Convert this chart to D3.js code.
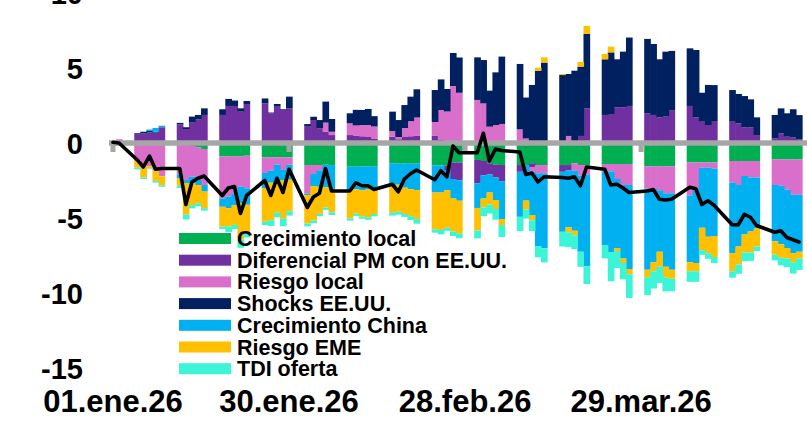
<!DOCTYPE html>
<html><head><meta charset="utf-8">
<script src="https://cdn.jsdelivr.net/npm/d3@7"></script>
<style>
body{margin:0;background:#fff}
svg{display:block}
text{font-family:"Liberation Sans",Arial,Helvetica,sans-serif;font-weight:bold;fill:#000}
</style>
</head><body>
<svg id="chart" width="807" height="425"></svg>
<script>
// ---------- DATA ----------
const dates = [
 "2026-01-01","2026-01-02",
 "2026-01-05","2026-01-06","2026-01-07","2026-01-08","2026-01-09",
 "2026-01-12","2026-01-13","2026-01-14","2026-01-15","2026-01-16",
 "2026-01-19","2026-01-20","2026-01-21","2026-01-22","2026-01-23",
 "2026-01-26","2026-01-27","2026-01-28","2026-01-29","2026-01-30",
 "2026-02-02","2026-02-03","2026-02-04","2026-02-05","2026-02-06",
 "2026-02-09","2026-02-10","2026-02-11","2026-02-12","2026-02-13",
 "2026-02-16","2026-02-17","2026-02-18","2026-02-19","2026-02-20",
 "2026-02-23","2026-02-24","2026-02-25","2026-02-26","2026-02-27",
 "2026-03-02","2026-03-03","2026-03-04","2026-03-05","2026-03-06",
 "2026-03-09","2026-03-10","2026-03-11","2026-03-12","2026-03-13",
 "2026-03-16","2026-03-17","2026-03-18","2026-03-19","2026-03-20",
 "2026-03-23","2026-03-24","2026-03-25","2026-03-26","2026-03-27",
 "2026-03-30","2026-03-31","2026-04-01","2026-04-02","2026-04-03",
 "2026-04-06","2026-04-07","2026-04-08","2026-04-09","2026-04-10",
 "2026-04-13","2026-04-14","2026-04-15","2026-04-16","2026-04-17",
 "2026-04-20","2026-04-21","2026-04-22","2026-04-23","2026-04-24"
];

const crecimientoLocal = [
 0,-0.05,
 -0.05,-0.05,-0.05,-0.05,-0.12,
 -0.05,-0.1,-0.2,-0.3,-0.4,
 -0.9,-0.9,-0.9,-0.9,-0.85,
 -0.95,-0.95,-0.95,-0.95,-0.95,
 -1.47,-1.47,-1.47,-1.45,-1.47,
 -1.58,-1.58,-1.55,-1.55,-1.58,
 -1.35,-1.38,-1.38,-1.38,-1.38,
 -1.5,-1.5,-1.5,-1.3,-1.3,
 -1.13,-1.2,-1.35,-1.45,-1.47,
 -1.47,-1.47,-1.35,-1.47,-1.47,
 -1.47,-1.47,-1.35,-1.47,-1.47,
 -1.4,-1.4,-1.4,-1.4,-1.4,
 -1.55,-1.55,-1.55,-1.55,-1.55,
 -1.3,-1.3,-1.3,-1.3,-1.3,
 -1.2,-1.2,-1.2,-1.2,-1.2,
 -1.1,-1.1,-1.1,-1.1,-1.1
];
const diferencialPM = [
 0,0,
 0.6,0.65,0.7,0.7,1.05,
 1.24,0.93,1.36,1.58,1.87,
 1.87,2.47,2.47,2.09,2.6,
 2.64,1.98,2.42,2.2,2.31,
 1.13,1.53,0.98,0.76,0.53,
 0.53,0.5,0.45,0.4,0.3,
 0.42,0.25,0.4,0.45,0.5,
 0.5,0.2,-0.3,-1.1,-1.2,
 -1.55,-0.95,-0.75,-0.85,-1.1,
 -0.45,0.1,-0.25,0.1,0,
 -0.45,-0.35,0,0.47,2.31,
 1.87,1.93,2.38,2.38,2.47,
 1.98,1.87,1.71,1.76,2.16,
 2.47,1.71,1.42,1.2,1.42,
 1.42,1.31,1.04,1.04,0.53,
 0.31,0.64,0.42,0.38,0.24
];
const riesgoLocal = [
 0.08,0.25,
 -1.1,-1.45,-1.5,-1.77,-2.1,
 -2.05,-2.37,-2.04,-2.17,-2.4,
 -2.8,-2.67,-2.45,-2.0,-2.17,
 -1.05,-0.9,-0.5,-0.85,-0.5,
 -1.9,-0.6,-0.35,0.6,0.22,
 0.78,0.67,0.75,0.8,0.8,
 0.38,0.15,0.6,1.0,1.2,
 0.9,2.0,2.1,3.8,3.35,
 2.87,2.64,1.09,1.2,1.27,
 0.91,0.2,-0.3,-0.55,-0.55,
 0,0.47,-0.5,-0.7,-0.65,
 -0.5,-0.5,-1.0,-1.4,-1.4,
 -1.5,-1.5,-1.6,-1.8,-1.8,
 -2.2,-1.7,-0.35,-0.35,-0.4,
 -1.45,-1.6,-1.0,-1.1,-1.1,
 -1.7,-1.75,-2.0,-2.35,-2.35
];
const shocksEEUU = [
 0,0,
 0.05,0.1,0.1,0.05,0,
 0.1,0.12,0.4,0.29,0.44,
 0.38,0.47,0.36,0.22,0.2,
 0.33,0.05,0.18,0.05,0.78,
 0.13,0.22,0.55,1.4,0.85,
 0.67,1.04,1.0,1.07,0.69,
 1.29,1.13,1.53,1.64,1.88,
 2.13,2.04,1.5,2.2,2.35,
 2.84,2.89,2.4,3.51,4.49,
 4.36,2.73,3.87,4.72,5.36,
 4.53,4.13,4.82,4.62,4.96,
 3.71,4.11,3.2,3.71,4.56,
 4.96,4.73,3.87,4.33,3.98,
 3.84,4.49,1.93,2.67,2.44,
 2.11,1.96,2.09,1.87,1.18,
 1.56,1.67,1.56,1.87,1.62
];
const crecimientoChina = [
 0,0,
 0,0,0.1,0.25,0.1,
 -0.25,-0.2,-0.45,-0.33,-0.44,
 -0.55,-0.78,-0.78,-1.1,-1.1,
 -1.0,-0.8,-1.3,-0.7,-1.0,
 -0.1,-0.8,-1.1,-1.5,-1.6,
 -1.6,-1.5,-1.6,-1.55,-1.45,
 -1.5,-1.4,-1.6,-1.7,-1.75,
 -1.8,-1.8,-1.35,-1.3,-1.35,
 -1.65,-1.55,-1.2,-1.5,-2.5,
 -3.0,-2.37,-2.9,-4.85,-5.0,
 -4.0,-3.8,-4.0,-5.08,-6.1,
 -4.9,-5.4,-4.6,-4.9,-5.6,
 -5.4,-4.9,-4.1,-4.9,-5.1,
 -4.45,-5.0,-4.0,-4.6,-4.5,
 -4.7,-4.1,-3.9,-3.6,-3.4,
 -3.75,-3.9,-3.9,-3.9,-3.8
];
const riesgoEME = [
 0,-0.15,
 -0.5,-0.8,-0.15,-0.7,-0.6,
 -0.5,-2.1,-1.45,-1.22,-1.1,
 -1.33,-1.22,-1.33,-2.44,-1.9,
 -2.25,-2.5,-1.9,-2.55,-2.1,
 -1.9,-2.3,-1.8,-1.35,-1.55,
 -1.85,-1.63,-1.75,-1.85,-1.7,
 -1.8,-1.8,-1.75,-1.8,-1.95,
 -2.45,-2.5,-2.5,-2.2,-2.2,
 -1.5,-0.6,-0.8,-0.6,-0.4,
 0,-0.6,-0.35,0.2,0.35,
 0.07,-0.33,-0.3,0.31,0.53,
 0.36,0.38,-0.2,-0.3,-0.35,
 -0.5,-0.6,-1.0,-0.7,-0.6,
 -0.6,-0.55,-1.5,-1.1,-1.4,
 -1.2,-1.2,-1.2,-1.4,-1.2,
 -0.9,-0.9,-0.7,-0.6,-0.45
];
const tdiOferta = [
 0,0,
 -0.1,-0.1,-0.05,-0.12,-0.1,
 -0.15,-0.33,-0.22,-0.2,-0.17,
 -0.15,-0.36,-0.27,-0.55,-0.28,
 -0.22,-0.38,-0.3,-0.5,-0.29,
 -0.19,-0.18,-0.16,-0.16,-0.18,
 -0.15,-0.15,-0.15,-0.17,-0.16,
 -0.19,-0.2,-0.2,-0.26,-0.3,
 -0.23,-0.29,-0.2,-0.3,-0.3,
 -0.53,-0.58,-0.6,-0.71,-0.8,
 -0.95,-0.6,-0.72,-0.75,-0.94,
 -0.98,-1.0,-0.92,-1.0,-1.18,
 -0.89,-1.92,-1.13,-1.09,-1.58,
 -1.19,-1.15,-1.08,-0.94,-0.84,
 -0.71,-0.7,-0.3,-0.37,-0.41,
 -0.43,-0.62,-0.58,-0.56,-0.31,
 -0.37,-0.51,-0.58,-0.75,-0.76
];
const total = [
 0.05,0.0,
 -1.13,-1.6,-0.87,-1.75,-1.7,
 -1.7,-4.1,-2.6,-2.35,-2.2,
 -3.5,-3.0,-2.9,-4.7,-3.5,
 -2.5,-3.5,-2.35,-3.3,-1.75,
 -4.3,-3.6,-3.35,-1.7,-3.2,
 -3.2,-2.65,-2.85,-2.85,-3.1,
 -2.75,-3.25,-2.4,-2.05,-1.8,
 -2.45,-1.85,-2.25,-0.2,-0.65,
 -0.65,0.65,-1.2,-0.4,-0.5,
 -0.6,-2.1,-2.0,-2.6,-2.25,
 -2.3,-2.35,-2.25,-2.85,-1.6,
 -1.75,-2.8,-2.75,-3.0,-3.3,
 -3.2,-3.1,-3.75,-3.8,-3.75,
 -2.95,-3.05,-4.1,-3.85,-4.15,
 -5.45,-5.45,-4.75,-4.95,-5.5,
 -5.95,-5.85,-6.3,-6.45,-6.6
];

const seriesNames = ["Crecimiento local","Diferencial PM con EE.UU.","Riesgo local","Shocks EE.UU.","Crecimiento China","Riesgo EME","TDI oferta"];
const seriesColors = ["#00B050","#7030A0","#DA6FCB","#002060","#00B0F0","#FFC000","#3CF5D6"];
const yTickValues = [-15,-10,-5,0,5,10];
const xTickDates = ["2026-01-01","2026-01-30","2026-02-28","2026-03-29"];
const xTickLabels = ["01.ene.26","30.ene.26","28.feb.26","29.mar.26"];

// ---------- CHART ----------
const seriesValues = [crecimientoLocal,diferencialPM,riesgoLocal,shocksEEUU,crecimientoChina,riesgoEME,tdiOferta];
const parse = d3.utcParse("%Y-%m-%d");
const rows = dates.map((d,i)=>{
  const r = {date: parse(d), total: total[i]};
  seriesNames.forEach((n,j)=>{ r[n] = seriesValues[j][i]; });
  return r;
});

const svg = d3.select("#chart");
const x = d3.scaleUtc().domain([parse("2026-01-01"), parse("2026-04-24")]).range([113, 799]);
const y = d3.scaleLinear().domain([-15, 10]).range([368, -7]);
const dayW = x(parse("2026-01-02")) - x(parse("2026-01-01"));

const stack = d3.stack().keys(seriesNames).offset(d3.stackOffsetDiverging);
const stacked = stack(rows);

svg.append("g").selectAll("g").data(stacked).join("g")
  .attr("fill",(d,i)=>seriesColors[i])
  .selectAll("rect").data(d=>d).join("rect")
  .attr("x",d=>x(d.data.date)-dayW/2)
  .attr("width",dayW+0.6)
  .attr("y",d=>y(Math.max(d[0],d[1])))
  .attr("height",d=>Math.abs(y(d[0])-y(d[1])));

// zero line
svg.append("line")
  .attr("x1",x(parse("2026-01-01"))-4).attr("x2",807)
  .attr("y1",y(0)).attr("y2",y(0))
  .attr("stroke","#A6A6A6").attr("stroke-width",5.5);

// tick marks
svg.append("g").selectAll("rect").data(xTickDates).join("rect")
  .attr("x",d=>x(parse(d))-2.5).attr("width",5)
  .attr("y",y(0)).attr("height",9)
  .attr("fill","#A6A6A6");

// total line
const line = d3.line().x(d=>x(d.date)).y(d=>y(d.total));
svg.append("path").datum(rows)
  .attr("d",line).attr("fill","none")
  .attr("stroke","#000").attr("stroke-width",3.6)
  .attr("stroke-linejoin","round").attr("stroke-linecap","round");

// y axis labels
svg.append("g").selectAll("text").data(yTickValues).join("text")
  .attr("x",83).attr("y",d=>y(d)+10.5)
  .attr("text-anchor","end").attr("font-size",29)
  .text(d=>d);

// x axis labels
svg.append("g").selectAll("text").data(xTickDates).join("text")
  .attr("x",d=>x(parse(d))).attr("y",412)
  .attr("text-anchor","middle").attr("font-size",31)
  .text((d,i)=>xTickLabels[i]);

// legend
const lg = svg.append("g").selectAll("g").data(seriesNames).join("g")
  .attr("transform",(d,i)=>`translate(0,${246 + i*21.7})`);
lg.append("rect").attr("x",179).attr("y",-13).attr("width",52).attr("height",11)
  .attr("fill",(d,i)=>seriesColors[i]);
lg.append("text").attr("x",237).attr("y",0).attr("font-size",21.5).text(d=>d);
</script>
</body></html>
